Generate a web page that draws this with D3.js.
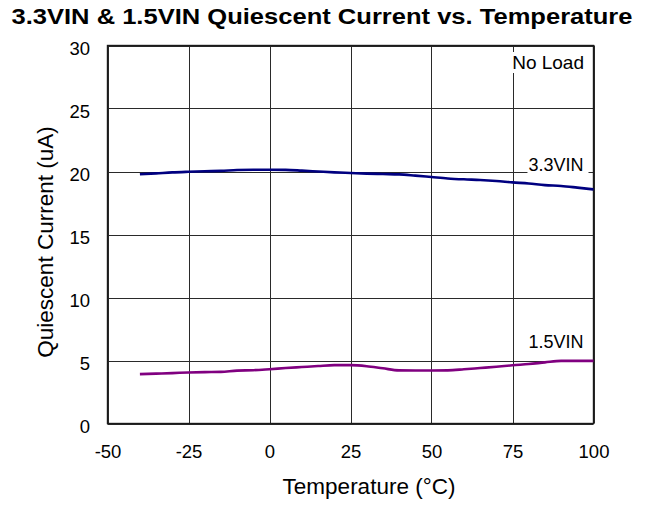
<!DOCTYPE html>
<html>
<head>
<meta charset="utf-8">
<script src="https://cdn.jsdelivr.net/npm/d3@7"></script>
<style>
  html, body { margin: 0; padding: 0; background: #fff; }
  svg { display: block; font-family: "Liberation Sans", Arial, sans-serif; }
</style>
</head>
<body>
<svg id="chart" width="655" height="505"></svg>
<script>
// Temperature sweep (°C) and measured quiescent current (uA)
const temps = [-40, -35, -30, -25, -20, -15, -10, -5, 0, 5, 10, 15, 20, 25, 30, 35, 40, 45, 50, 55, 60, 65, 70, 75, 80, 85, 90, 95, 100];
const iq33 = [19.78, 19.85, 19.93, 19.98, 20.02, 20.05, 20.12, 20.14, 20.14, 20.13, 20.07, 20.0, 19.93, 19.88, 19.83, 19.8, 19.77, 19.67, 19.56, 19.45, 19.38, 19.33, 19.25, 19.14, 19.05, 18.92, 18.85, 18.72, 18.58];
const iq15 = [3.92, 3.96, 4.0, 4.05, 4.08, 4.1, 4.2, 4.23, 4.31, 4.4, 4.48, 4.56, 4.63, 4.63, 4.55, 4.38, 4.22, 4.21, 4.21, 4.22, 4.3, 4.4, 4.5, 4.62, 4.72, 4.85, 4.97, 4.97, 4.97];
const xTicks = [-50, -25, 0, 25, 50, 75, 100];
const yTicks = [0, 5, 10, 15, 20, 25, 30];
const seriesNames = ["3.3VIN", "1.5VIN"];

const svg = d3.select("#chart");
const plotL = 107.5, plotR = 593.5, plotT = 45.5, plotB = 423.5;

const x = d3.scaleLinear().domain([-50, 100]).range([plotL, plotR]);
const y = d3.scaleLinear().domain([0, 30]).range([plotB, plotT]);

// Title
svg.append("text")
  .attr("x", 11.5).attr("y", 24)
  .attr("font-size", 21.5).attr("font-weight", "bold")
  .attr("textLength", 621).attr("lengthAdjust", "spacingAndGlyphs")
  .text("3.3VIN & 1.5VIN Quiescent Current vs. Temperature");

// Grid lines
const grid = svg.append("g").attr("stroke", "#2a2a2a").attr("stroke-width", 1);
grid.selectAll("line.v").data(xTicks).join("line")
  .attr("x1", d => Math.round(x(d)) + 0.5).attr("x2", d => Math.round(x(d)) + 0.5)
  .attr("y1", plotT).attr("y2", plotB);
grid.selectAll("line.h").data(yTicks).join("line")
  .attr("x1", plotL).attr("x2", plotR)
  .attr("y1", d => Math.round(y(d)) + 0.5).attr("y2", d => Math.round(y(d)) + 0.5);

// Frame
svg.append("rect")
  .attr("x", plotL).attr("y", plotT)
  .attr("width", plotR - plotL).attr("height", plotB - plotT)
  .attr("fill", "none").attr("stroke", "#1a1a1a").attr("stroke-width", 1.4);

// Axes (labels only; hyphen minus as printed)
const fmt = d => String(d);
const xAxis = d3.axisBottom(x).tickValues(xTicks).tickSize(0).tickPadding(21.7).tickFormat(fmt);
svg.append("g").attr("transform", `translate(0,${plotB})`).call(xAxis)
  .call(g => g.select(".domain").remove())
  .selectAll("text").attr("font-size", 18.5).attr("fill", "#000").attr("font-family", "Liberation Sans, Arial, sans-serif");

const yAxis = d3.axisLeft(y).tickValues(yTicks).tickSize(0).tickPadding(17.5).tickFormat(fmt);
svg.append("g").attr("transform", `translate(${plotL},0)`).call(yAxis)
  .call(g => g.select(".domain").remove())
  .selectAll("text").attr("font-size", 18.5).attr("dy", "0.46em").attr("fill", "#000").attr("font-family", "Liberation Sans, Arial, sans-serif");

// Axis titles
svg.append("text")
  .attr("x", 369).attr("y", 494)
  .attr("text-anchor", "middle").attr("font-size", 22.5)
  .text("Temperature (°C)");
svg.append("text")
  .attr("transform", "translate(53,242) rotate(-90)")
  .attr("text-anchor", "middle").attr("font-size", 22.5)
  .text("Quiescent Current (uA)");

// Labels with white backing
function boxedLabel(txt, xr, yb, size, padL, padR) {
  const t = svg.append("text")
    .attr("x", xr).attr("y", yb)
    .attr("text-anchor", "end").attr("font-size", size)
    .text(txt);
  const b = t.node().getBBox();
  svg.insert("rect", () => t.node())
    .attr("x", b.x - padL).attr("y", b.y)
    .attr("width", b.width + padL + padR).attr("height", b.height)
    .attr("fill", "#fff");
}
boxedLabel("No Load", 584, 69, 19, 1, 2);

// Series lines
const line = d3.line().x((d, i) => x(temps[i])).y(d => y(d)).curve(d3.curveMonotoneX);
svg.append("path").datum(iq33)
  .attr("d", line).attr("fill", "none")
  .attr("stroke", "#000080").attr("stroke-width", 2.6);
svg.append("path").datum(iq15)
  .attr("d", line).attr("fill", "none")
  .attr("stroke", "#800080").attr("stroke-width", 2.6);

boxedLabel(seriesNames[0], 583.5, 170.7, 18, 1, 5);
boxedLabel(seriesNames[1], 583.5, 348.3, 18, 1, 5);
</script>
</body>
</html>
